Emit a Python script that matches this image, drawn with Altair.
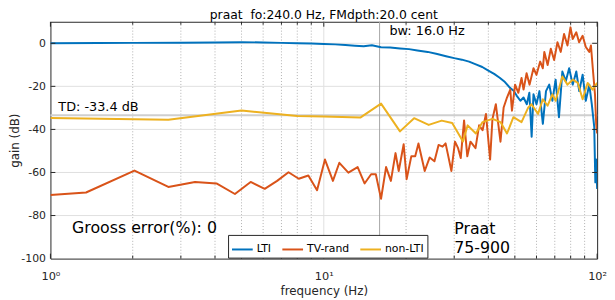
import altair as alt
import pandas as pd

FONT = "DejaVu Sans"
INK = "#262626"

title_text = "praat\u00a0 fo:240.0 Hz, FMdpth:20.0 cent"
series_names = ["LTI", "TV-rand", "non-LTI"]
series_colors = ["#0072BD", "#D95319", "#EDB120"]

lti_f = [1, 1.5, 2, 3, 4, 5, 6, 7, 8, 9, 10, 11, 12, 13, 14, 15, 16.2, 17.5, 19, 20.5,
         22, 24, 26, 28, 30, 32, 34, 36, 38, 40, 42, 44, 46, 48, 49.5, 50.9, 52.4, 53.8, 55.3, 56.5,
         57.6, 58.5, 60, 61.5, 63.3, 65, 66.8, 68.6, 70.5, 72.5, 74.6, 76.8, 79, 81.4, 83.9, 86,
         88.5, 90.9, 93.6, 95.6, 97.6, 98.5, 99.2, 100]
lti_db = [0, 0.1, 0.2, 0.3, 0.4, 0.5, 0.4, 0.2, 0, -0.1, -0.3, -0.5, -0.8, -1.1, -1.4, -0.9, -1.8, -2, -2.4, -2.7,
          -3.3, -4, -5, -6, -6.9, -7.6, -8.5, -9.8, -11, -12.7, -14.2, -16, -18, -20.7, -22, -24.5, -26.7, -25.2, -28.3, -23,
          -43.4, -23.7, -28.3, -22.2, -37.4, -22.2, -19.2, -26.7, -16.9, -34.3, -13.1, -17.6, -11.6, -19.2, -13.1, -22.2,
          -14.6, -26.7, -19.2, -28.3, -38.9, -64.6, -54, -67.6]

tv_f = [1.0, 1.35, 2.03, 2.70, 3.38, 4.05, 4.73, 5.40, 6.08, 6.75, 7.43, 8.10, 8.78, 9.45, 10.1, 10.8, 11.4, 12.3,
        13.3, 14.1, 14.9, 15.5, 16.2, 16.9, 17.6, 18.3, 18.8, 19.6, 20.1, 20.9, 21.6, 22.2, 23.4, 24.4, 25.4, 26.3,
        27.2, 27.9, 29.3, 30.2, 31.0, 31.7, 32.6, 33.5, 34.4, 35.9, 37.0, 38.1, 39.2, 40.6, 41.4, 42.6, 43.7, 44.3,
        45.5, 46.8, 48.1, 48.8, 50.1, 51.5, 52.9, 53.8, 55.2, 56.6, 58.5, 60.0, 61.9, 63.3, 64.1, 65.9, 67.7, 69.6,
        71.6, 73.6, 75.7, 77.9, 79.9, 81.4, 83.9, 85.9, 88.5, 90.9, 93.6, 94.9, 96.4, 98.2, 99.2, 100]
tv_db = [-70.5, -69.3, -59.1, -66.7, -64.4, -65.1, -70, -64.4, -67.6, -63.9, -59.9, -62.9, -61.4, -68.2, -54, -63.9,
         -55.5, -60.1, -57.5, -65.1, -60.8, -60.8, -72.2, -57.5, -63.9, -51, -59.3, -46.9, -63.1, -52.5, -52.5, -46.5,
         -59.3, -53, -54.8, -47.2, -48, -46.5, -59.3, -45.7, -48.7, -53.3, -35.8, -52.5, -45.7, -48.7, -38.1, -40.4,
         -32.8, -54, -35.1, -28.3, -39.6, -45.7, -29.8, -25.2, -21.5, -31.3, -19.2, -23, -16.1, -21.5, -13.9, -19.2,
         -11.6, -14.6, -8.5, -11.6, -4, -10.1, -2.5, -7.8, 0.5, -4, 4.3, -1, 7.4, 2, 5.1, 0.5, 3.5, -1.7, -4, -1,
         -11.6, -23.7, -37.4, -41.9]

nl_f = [1.0, 2.7, 5.0, 8.0, 10.0, 13.6, 16.2, 19.0, 21.4, 24.2, 27.0, 29.5, 32.3, 33.6, 36.0, 38.1, 41.4, 44.3,
        46.8, 49.4, 52.9, 56.0, 57.5, 60.8, 63.3, 65.9, 68.6, 70.5, 74.6, 77.9, 81.4, 85.0, 88.5, 92.3, 96.2, 100]
nl_db = [-34.7, -35.5, -31.2, -33.8, -34.0, -34.5, -28.0, -40.9, -34.8, -37.9, -35.9, -37.0, -45.6, -38.1, -41.9,
         -36.6, -35.1, -36.6, -41.9, -34.3, -36.6, -29.8, -28.3, -32.8, -26.0, -29.0, -23.7, -26.7, -15.4, -19.2,
         -16.9, -18.4, -26.0, -18.4, -21.5, -18.4]

bw_hz = 16.0
td_db = -33.4
gross_error = 0
method_lines = ["Praat", "75-900"]

x_major = [1, 10, 100]
x_minor = [2, 3, 4, 5, 6, 7, 8, 9, 20, 30, 40, 50, 60, 70, 80, 90]
y_ticks = [-100, -80, -60, -40, -20, 0]
y_grid = [-80, -60, -40, -20, 0]

rows = []
for name, fs, ds in [("LTI", lti_f, lti_db), ("TV-rand", tv_f, tv_db), ("non-LTI", nl_f, nl_db)]:
    for i, (f, d) in enumerate(zip(fs, ds)):
        rows.append({"series": name, "f": f, "db": d, "i": i})
df = pd.DataFrame(rows)

W, H = 554, 240
xs = alt.Scale(type="log", domain=[1, 100], nice=False)
ys = alt.Scale(domain=[-100, 10], nice=False, zero=False)

X_AXIS = alt.Axis(values=x_major,
                  labelExpr="datum.value == 1 ? '10\u2070' : (datum.value == 10 ? '10\u00b9' : '10\u00b2')",
                  title="frequency (Hz)", grid=False, ticks=False, domain=False,
                  labelPadding=12, labelFontSize=11.5, titleFontSize=12, titlePadding=4,
                  labelFont=FONT, titleFont=FONT, labelColor=INK, titleColor=INK,
                  titleFontWeight="normal", labelFlush=False)
Y_AXIS = alt.Axis(values=y_ticks,
                  labelExpr="datum.value < 0 ? '-' + abs(datum.value) : '' + datum.value",
                  title="gain (dB)", grid=False, ticks=False, domain=False,
                  labelPadding=5, labelFontSize=11, titleFontSize=12,
                  titleX=-32.5, titleY=H / 2, titleAngle=270, titleBaseline="alphabetic",
                  titleAlign="center",
                  labelFont=FONT, titleFont=FONT, labelColor=INK, titleColor=INK,
                  titleFontWeight="normal")

LEGEND = alt.Legend(orient="none", legendX=180, legendY=216, direction="horizontal", title=None,
                    symbolType="stroke", symbolStrokeWidth=2, symbolSize=440,
                    labelFontSize=11, labelFont=FONT, labelColor="black",
                    strokeColor=INK, fillColor="white", padding=3, columnPadding=7,
                    labelOffset=3, cornerRadius=0)

color = alt.Color("series:N", scale=alt.Scale(domain=series_names, range=series_colors), legend=LEGEND)

xv = lambda: alt.X("v:Q", scale=xs, axis=X_AXIS)
yv = lambda: alt.Y("v:Q", scale=ys, axis=Y_AXIS)

minor_grid = alt.Chart(pd.DataFrame({"v": x_minor})).mark_rule(
    color="#b0b0b0", strokeWidth=1, strokeDash=[1, 2]).encode(x=xv())
major_grid = alt.Chart(pd.DataFrame({"v": [10]})).mark_rule(
    color="#e0e0e0", strokeWidth=1).encode(x=xv())
y_gridl = alt.Chart(pd.DataFrame({"v": y_grid})).mark_rule(
    color="#e0e0e0", strokeWidth=1).encode(y=yv())
td_line = alt.Chart(pd.DataFrame({"v": [td_db]})).mark_rule(
    color="#cfcfcf", strokeWidth=2).encode(y=yv())
bw_line = alt.Chart(pd.DataFrame({"v": [bw_hz]})).mark_rule(
    color="#a6a6a6", strokeWidth=1).encode(x=xv())


def series_layer(name):
    return alt.Chart(df).transform_filter(alt.datum.series == name).mark_line(
        strokeWidth=2, clip=True, strokeJoin="round").encode(
        x=alt.X("f:Q", scale=xs, axis=X_AXIS),
        y=alt.Y("db:Q", scale=ys, axis=Y_AXIS),
        color=color, order="i:Q")


def text_layer(label, xval, yval, size, dx=0):
    return alt.Chart(pd.DataFrame({"t": [label]})).mark_text(
        align="left", baseline="middle", font=FONT, fontSize=size, color="black", dx=dx).encode(
        x=alt.datum(xval), y=alt.datum(yval), text="t:N")


t_bw = text_layer(f"bw: {bw_hz:.1f} Hz", bw_hz, 5.7, 13, dx=10)
t_td = text_layer(f"TD: {td_db:.1f} dB", 1, -29.5, 13, dx=8)
t_ge = text_layer(f"Grooss error(%): {gross_error}", 1.2, -85.8, 16)
t_m1 = text_layer(method_lines[0], 30, -86.5, 16)
t_m2 = text_layer(method_lines[1], 30, -95.1, 16)

t_title = alt.Chart(pd.DataFrame({"t": [title_text]})).mark_text(
    align="center", baseline="alphabetic", font=FONT, fontSize=12.5, color="black").encode(
    x=alt.value(W / 2), y=alt.value(-2.5), text="t:N")

tick_major = pd.DataFrame({"v": x_major})
tick_minor = pd.DataFrame({"v": x_minor})
tk = dict(color=INK, strokeWidth=1)
ticks = [
    alt.Chart(tick_major).mark_rule(**tk).encode(x=xv(), y=alt.value(H), y2=alt.value(H - 5)),
    alt.Chart(tick_minor).mark_rule(**tk).encode(x=xv(), y=alt.value(H), y2=alt.value(H - 3)),
    alt.Chart(tick_major).mark_rule(**tk).encode(x=xv(), y=alt.value(0), y2=alt.value(5)),
    alt.Chart(tick_minor).mark_rule(**tk).encode(x=xv(), y=alt.value(0), y2=alt.value(3)),
    alt.Chart(pd.DataFrame({"v": y_grid})).mark_rule(**tk).encode(y=yv(), x=alt.value(0), x2=alt.value(5)),
    alt.Chart(pd.DataFrame({"v": y_grid})).mark_rule(**tk).encode(y=yv(), x=alt.value(W), x2=alt.value(W - 5)),
]

chart = alt.layer(
    minor_grid, major_grid, y_gridl, td_line, bw_line,
    series_layer("LTI"), series_layer("TV-rand"), series_layer("non-LTI"),
    t_bw, t_td, t_ge, t_m1, t_m2, t_title, *ticks
).properties(
    width=W, height=H,
    autosize=alt.AutoSizeParams(type="none"),
    padding={"left": 43, "top": 12, "right": 10, "bottom": 40},
).configure_view(stroke=INK, strokeWidth=1)

chart.save("out.html", embed_options={"renderer": "svg", "actions": False})
